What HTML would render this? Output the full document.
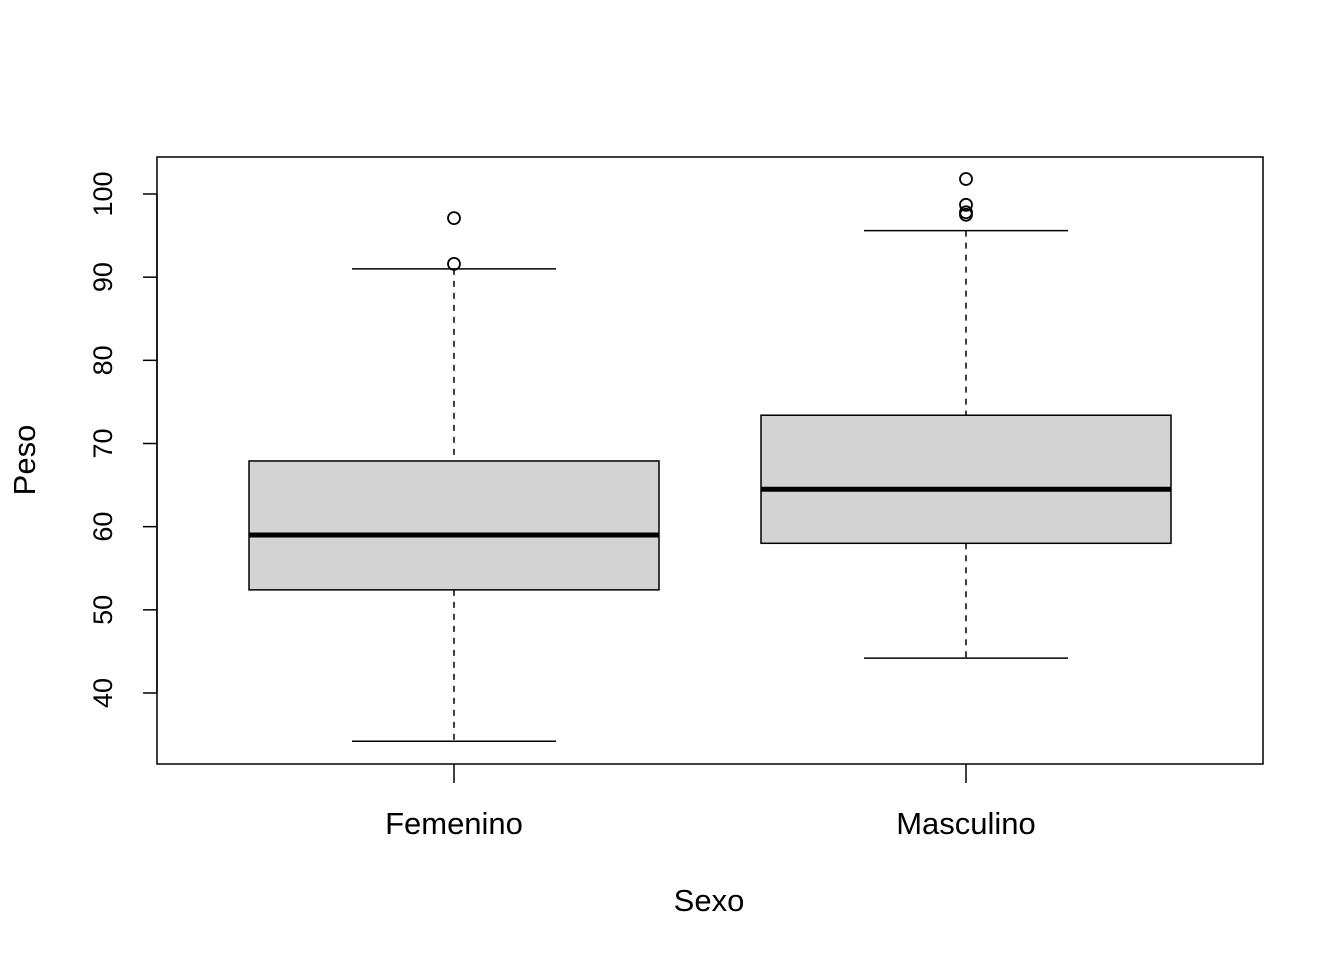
<!DOCTYPE html>
<html><head><meta charset="utf-8"><style>
html,body{margin:0;padding:0;background:#fff;}
svg text{font-family:"Liberation Sans",Arial,sans-serif;fill:#000;}
</style></head><body>
<svg id="chart" width="1344" height="960" xmlns="http://www.w3.org/2000/svg">
<rect x="157" y="157" width="1106" height="607" fill="none" stroke="#000" stroke-width="1.5"/>
<g id="marks"></g>
<text transform="translate(35,460) rotate(-90)" text-anchor="middle" font-size="31">Peso</text>
<text x="709" y="911" text-anchor="middle" font-size="31">Sexo</text>
</svg>
<script>
const categories = ["Femenino", "Masculino"];
const q1 = [52.4, 58.0];
const medians = [59.0, 64.5];
const q3 = [67.9, 73.4];
const whiskerLow = [34.2, 44.2];
const whiskerHigh = [91.0, 95.6];
const outliers = [[97.1, 91.6], [101.8, 98.7, 97.8, 97.5]];
const yTicks = [40, 50, 60, 70, 80, 90, 100];

const NS = "http://www.w3.org/2000/svg";
const g = document.getElementById("marks");
function y(v){ return 194 + (100 - v) * (499/60); }
function x(i){ return 454 + 512 * i; }
function el(tag, attrs, parent){
  const e = document.createElementNS(NS, tag);
  for (const k in attrs) e.setAttribute(k, attrs[k]);
  (parent || g).appendChild(e);
  return e;
}
const ya = el("line", {x1:157, x2:157, y1:y(40), y2:y(100), stroke:"#000", "stroke-width":1.5});


yTicks.forEach(t => {
  const tk = el("line", {x1:143, x2:157, y1:y(t), y2:y(t), stroke:"#000", "stroke-width":1.5});
  
  
  const tx = el("text", {transform:`translate(112,${y(t)}) rotate(-90)`, "text-anchor":"middle", "font-size":"27"});
  tx.textContent = t;
  
  
});
categories.forEach((c, i) => {
  const cx = x(i);
  const tk = el("line", {x1:cx, x2:cx, y1:764, y2:783, stroke:"#000", "stroke-width":1.5});
  
  
  const lb = el("text", {x:cx, y:834, "text-anchor":"middle", "font-size":"31"});
  lb.textContent = c;
  
  
  const w1 = el("line", {x1:cx, x2:cx, y1:y(whiskerHigh[i]), y2:y(q3[i]), stroke:"#000", "stroke-width":1.5, "stroke-dasharray":"6,6"});
  
  
  const w2 = el("line", {x1:cx, x2:cx, y1:y(q1[i]), y2:y(whiskerLow[i]), stroke:"#000", "stroke-width":1.5, "stroke-dasharray":"6,6"});
  
  
  [whiskerHigh[i], whiskerLow[i]].forEach(v => {
    const cap = el("line", {x1:cx-102, x2:cx+102, y1:y(v), y2:y(v), stroke:"#000", "stroke-width":1.5});
    
    
  });
  const b = el("rect", {x:cx-205, y:y(q3[i]), width:410, height:y(q1[i])-y(q3[i]), fill:"#d3d3d3", stroke:"#000", "stroke-width":1.5});
  
  
  const m = el("line", {x1:cx-205, x2:cx+205, y1:y(medians[i]), y2:y(medians[i]), stroke:"#000", "stroke-width":5});
  
  
  outliers[i].forEach(v => {
    const o = el("circle", {cx:cx, cy:y(v), r:6, fill:"none", stroke:"#000", "stroke-width":1.8});
    
    
  });
});
</script>
</body></html>
